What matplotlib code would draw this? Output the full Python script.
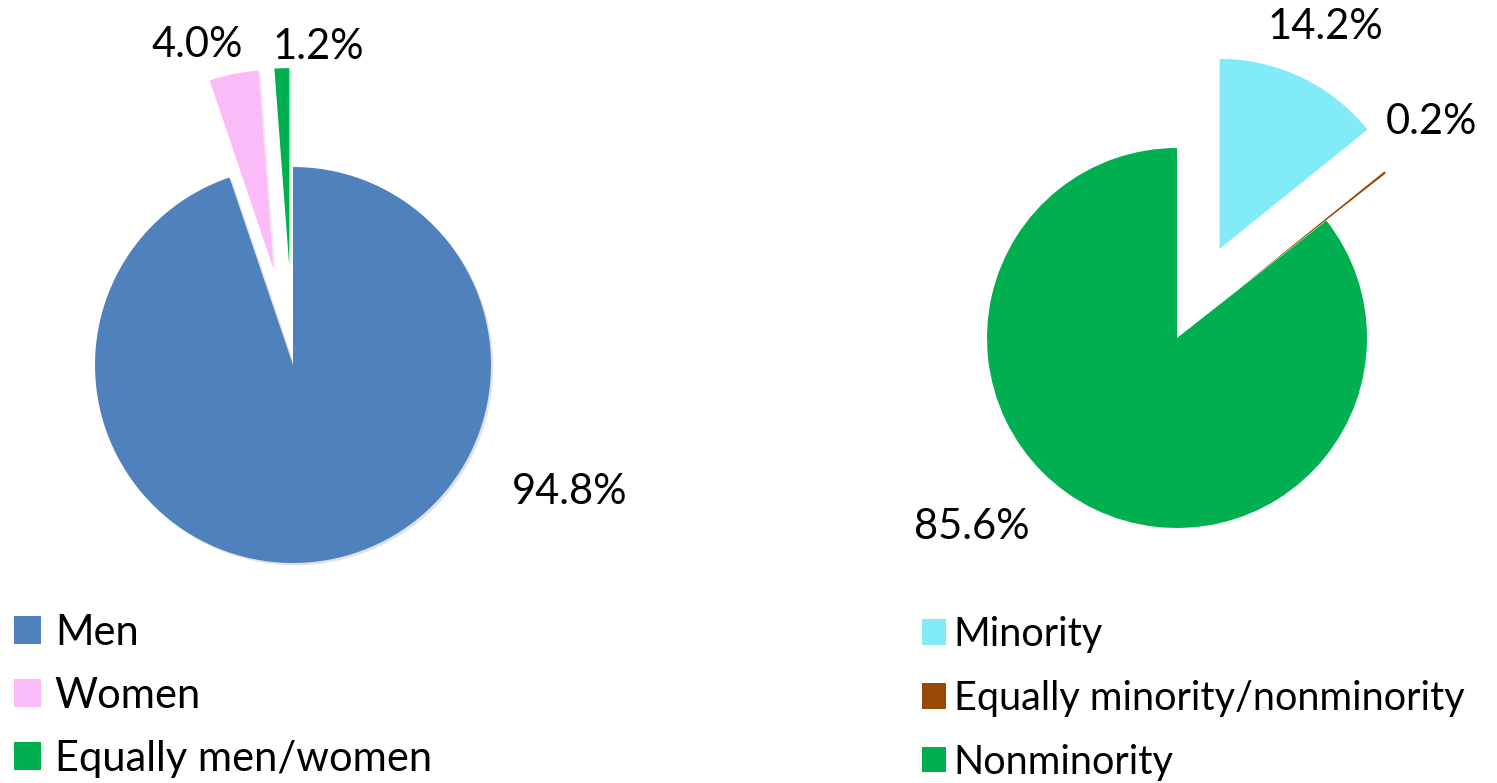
import matplotlib.pyplot as plt

plt.rcParams["font.family"] = ["Lato", "DejaVu Sans"]

# gender split of the respondents
gender_labels = ["Men", "Women", "Equally men/women"]
gender_values = [94.8, 4.0, 1.2]
gender_colors = ["#4F81BD", "#FBBBF9", "#00B050"]

# minority split of the respondents
minority_labels = ["Minority", "Equally minority/nonminority", "Nonminority"]
minority_values = [14.2, 0.2, 85.6]
minority_colors = ["#81EBF7", "#984807", "#00B050"]

W, H = 1497, 783
fig = plt.figure(figsize=(W / 100, H / 100), dpi=100)

FS = 30

# ---- left pie: gender ----
ax1 = fig.add_axes([0, 0, 0.5, 1])
wedges1, _ = ax1.pie(
    gender_values,
    colors=gender_colors,
    startangle=90,
    counterclock=False,
    explode=[0, 0.5, 0.5],
    radius=1,
    wedgeprops=dict(linewidth=0),
    shadow=dict(ox=0.008, oy=-0.008, shade=0.5, alpha=0.15),
)
ax1.set_aspect("auto")
r1, cx1, cy1 = 198, 293, 365
ax1.set_xlim(-cx1 / r1, (W / 2 - cx1) / r1)
ax1.set_ylim((cy1 - H) / r1, cy1 / r1)
ax1.axis("off")

label_pos1 = [(1.399, -0.641), (-0.485, 1.616), (0.126, 1.606)]
for v, (x, y) in zip(gender_values, label_pos1):
    ax1.text(x, y, f"{v:.1f}%", fontsize=FS, ha="center", va="center")

# ---- right pie: minority ----
ax2 = fig.add_axes([0.5, 0, 0.5, 1])
wedges2, _ = ax2.pie(
    minority_values,
    colors=minority_colors,
    startangle=90,
    counterclock=False,
    explode=[0.52, 0.4, 0],
    radius=1,
    wedgeprops=dict(linewidth=0),
)
ax2.set_aspect("auto")
r2, cx2, cy2 = 190, 1177, 338
ax2.set_xlim((W / 2 - cx2) / r2, (W - cx2) / r2)
ax2.set_ylim((cy2 - H) / r2, cy2 / r2)
ax2.axis("off")

label_pos2 = [(0.779, 1.637), (1.337, 1.137), (-1.079, -0.995)]
for v, (x, y) in zip(minority_values, label_pos2):
    ax2.text(x, y, f"{v:.1f}%", fontsize=FS, ha="center", va="center")

# ---- legends ----
leg_kw = dict(
    loc="upper left",
    frameon=False,
    borderpad=0,
    borderaxespad=0,
)
fig.legend(wedges1, gender_labels, bbox_to_anchor=(14 / W, 1 - 614 / H),
           fontsize=FS, handlelength=0.65, handleheight=0.65,
           handletextpad=0.33, labelspacing=0.6, **leg_kw)
fig.legend(wedges2, minority_labels, bbox_to_anchor=(922 / W, 1 - 616 / H),
           fontsize=28.5, handlelength=0.6, handleheight=0.6,
           handletextpad=0.2, labelspacing=0.68, **leg_kw)

fig.savefig("out.png", dpi=100)
